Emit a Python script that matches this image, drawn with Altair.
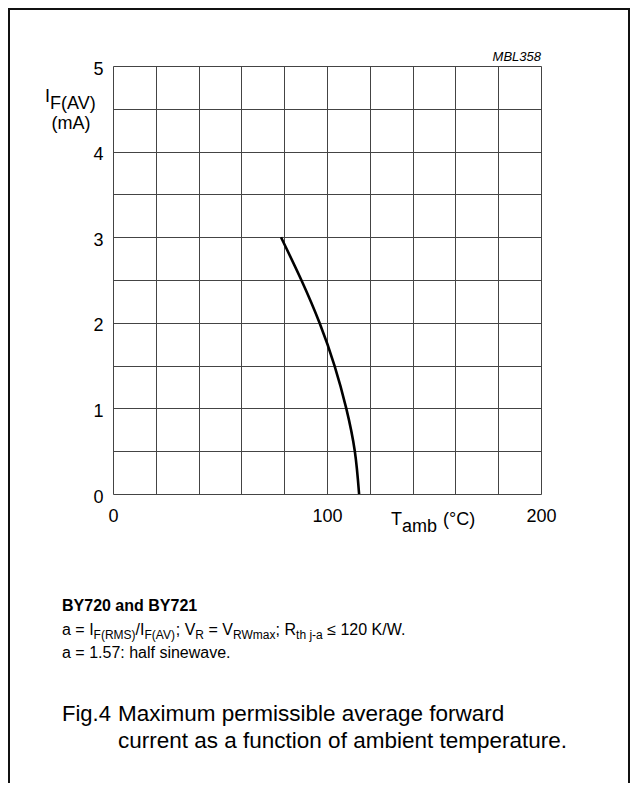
import altair as alt
import pandas as pd

# ---- data ----
t_amb = [78.5, 88.0, 96.5, 103.5, 109.0, 113.0, 115.0]
i_fav = [3.0, 2.5, 2.0, 1.5, 1.0, 0.5, 0.0]
x_grid = [0, 20, 40, 60, 80, 100, 120, 140, 160, 180, 200]
y_grid = [0, 0.5, 1, 1.5, 2, 2.5, 3, 3.5, 4, 4.5, 5]

FONT = "Liberation Sans"
W, H = 428, 428

# Arial/Helvetica advance widths (1/1000 em) for layout of sub-scripted text
ADV = {" ": 278, "(": 333, ")": 333, "/": 278, ";": 278, ":": 278, ".": 278, "-": 333,
       "=": 584, "\u2264": 549, "\u00b0": 400,
       "A": 667, "B": 667, "C": 722, "F": 611, "I": 278, "K": 667, "M": 833, "R": 722,
       "S": 667, "T": 611, "V": 667, "W": 944,
       "a": 556, "b": 556, "c": 500, "d": 556, "e": 556, "f": 278, "g": 556, "h": 556,
       "i": 222, "j": 222, "l": 222, "m": 833, "n": 556, "o": 556, "p": 556, "r": 333,
       "s": 500, "t": 278, "u": 556, "v": 500, "w": 722, "x": 500, "y": 500, "k": 500}


def tw(s, size):
    return sum(ADV.get(c, 556) for c in s) * size / 1000.0


def txt(s, x, y, size, weight="normal", style="normal", align="left"):
    return alt.Chart(alt.Data(values=[{}])).mark_text(
        text=s, font=FONT, fontSize=size, fontWeight=weight, fontStyle=style,
        align=align, baseline="alphabetic", color="black"
    ).encode(x=alt.value(x), y=alt.value(y))


def rich(parts, x, y, size, sub_size, sub_dy):
    layers = []
    cx = x
    for s, is_sub in parts:
        sz = sub_size if is_sub else size
        dy = sub_dy if is_sub else 0
        lead = len(s) - len(s.lstrip(" "))
        cx += tw(" " * lead, sz)
        body = s.lstrip(" ")
        layers.append(txt(body, cx, y + dy, sz))
        cx += tw(body, sz)
    return layers


df = pd.DataFrame({"T": t_amb, "I": i_fav})

curve = alt.Chart(df).mark_line(
    color="black", strokeWidth=2.6, interpolate="natural"
).encode(
    x=alt.X("T:Q", scale=alt.Scale(domain=[0, 200], nice=False, zero=False),
            axis=alt.Axis(values=x_grid, title=None, grid=True, domain=False, ticks=False,
                          labelExpr="datum.value % 100 === 0 ? format(datum.value, 'd') : ''",
                          labelFont=FONT, labelFontSize=18, labelColor="black",
                          labelPadding=13, labelFlush=False, labelOverlap=False,
                          gridColor="#444", gridWidth=1, gridOpacity=1)),
    y=alt.Y("I:Q", scale=alt.Scale(domain=[0, 5], nice=False),
            axis=alt.Axis(values=y_grid, title=None, grid=True, domain=False, ticks=False,
                          labelExpr="datum.value % 1 === 0 ? format(datum.value, 'd') : ''",
                          labelFont=FONT, labelFontSize=18, labelColor="black",
                          labelPadding=10, labelOffset=3, labelFlush=False, labelOverlap=False,
                          gridColor="#444", gridWidth=1, gridOpacity=1)),
    order="T:Q",
)

frame = alt.Chart(alt.Data(values=[{}])).mark_rect(
    fill=None, stroke="#111", strokeWidth=2
).encode(x=alt.value(-104), x2=alt.value(516), y=alt.value(-57), y2=alt.value(800))

layers = [frame, curve]
layers.append(txt("MBL358", W, -5, 13, style="italic", align="right"))
# y title
layers.append(txt("I", -68, 36, 18))
layers.append(txt("F(AV)", -68 + tw("I", 18), 43, 18))
layers.append(txt("(mA)", -42, 63, 18, align="center"))
# x title
layers.append(txt("T", 278, 459, 18))
layers.append(txt("amb", 278 + tw("T", 18), 466, 18))
layers.append(txt("(\u00b0C)", 278 + tw("T", 18) + tw("amb", 18) + 6, 459, 18))
# notes
layers.append(txt("BY720 and BY721", -51, 545, 16, weight="bold"))
layers += rich([("a = I", False), ("F(RMS)", True), ("/I", False), ("F(AV)", True),
                ("; V", False), ("R", True), (" = V", False), ("RWmax", True),
                ("; R", False), ("th j-a", True), (" \u2264 120 K/W.", False)],
               -51, 569, 16, 12, 4)
layers.append(txt("a = 1.57: half sinewave.", -51, 592, 16))
# caption
layers.append(txt("Fig.4", -51, 655, 22))
layers.append(txt("Maximum permissible average forward", 5, 655, 22.5))
layers.append(txt("current as a function of ambient temperature.", 5, 682, 22.5))

chart = alt.layer(*layers).properties(
    width=W, height=H,
    autosize=alt.AutoSizeParams(type="none"),
    padding={"left": 105, "top": 58, "right": 90, "bottom": 289},
).configure_view(stroke="#333", strokeWidth=1.2).configure(background="white")

chart.save("out.html", embed_options={"renderer": "svg", "actions": False})
